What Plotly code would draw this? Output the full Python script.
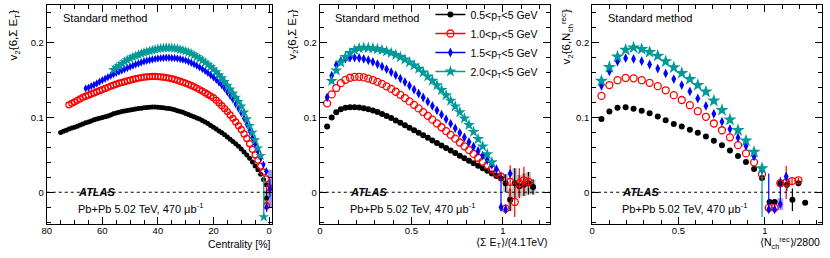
import plotly.graph_objects as go

W, H = 830, 258

# ---------------- data: left panel (centrality %) ----------------
cent_black = list(range(75, 0, -1))
v_black_cent = [0.080, 0.0815, 0.083, 0.0845, 0.086, 0.087, 0.0885, 0.090, 0.0915, 0.093,
                0.094, 0.0955, 0.097, 0.098, 0.099, 0.100, 0.101, 0.102, 0.1035, 0.105,
                0.106, 0.107, 0.108, 0.1087, 0.1094, 0.110, 0.1107, 0.1114, 0.112, 0.1125,
                0.113, 0.1134, 0.1137, 0.114, 0.114, 0.1138, 0.1135, 0.113, 0.1125, 0.112,
                0.1113, 0.1103, 0.109, 0.108, 0.107, 0.1055, 0.104, 0.1025, 0.101, 0.0995,
                0.098, 0.096, 0.094, 0.092, 0.0895, 0.087, 0.0845, 0.082, 0.0795, 0.077,
                0.074, 0.071, 0.068, 0.065, 0.0615, 0.058, 0.054, 0.050, 0.0455, 0.0405,
                0.035, 0.030, 0.024, 0.017, 0.010]
cent_red = list(range(72, 0, -1))
v_red_cent = [0.117, 0.119, 0.121, 0.123, 0.125, 0.127, 0.1285, 0.130, 0.1315, 0.133,
              0.1345, 0.136, 0.1375, 0.139, 0.1405, 0.142, 0.1433, 0.1446, 0.146, 0.147,
              0.148, 0.149, 0.150, 0.151, 0.152, 0.1528, 0.1535, 0.154, 0.1545, 0.1548,
              0.155, 0.155, 0.1548, 0.1545, 0.154, 0.1535, 0.1528, 0.152, 0.151, 0.1498,
              0.1486, 0.1473, 0.146, 0.1445, 0.143, 0.1413, 0.1395, 0.1375, 0.1354, 0.1332,
              0.131, 0.1288, 0.1265, 0.1232, 0.1196, 0.1158, 0.1119, 0.108, 0.1035, 0.099,
              0.094, 0.089, 0.084, 0.078, 0.072, 0.065, 0.0575, 0.050, 0.043, 0.035,
              0.027, 0.018]
cent_blue = list(range(66, 0, -1))
v_blue_cent = [0.139, 0.140, 0.142, 0.1435, 0.1455, 0.148, 0.150, 0.152, 0.154, 0.156,
               0.158, 0.1598, 0.1615, 0.163, 0.1647, 0.1663, 0.168, 0.1695, 0.171, 0.1724,
               0.1737, 0.175, 0.176, 0.177, 0.1778, 0.1785, 0.179, 0.1795, 0.1798, 0.180,
               0.180, 0.1798, 0.1795, 0.179, 0.1783, 0.1775, 0.1765, 0.175, 0.1734, 0.1715,
               0.1695, 0.1673, 0.165, 0.1625, 0.1598, 0.157, 0.154, 0.1505, 0.147, 0.1433,
               0.139, 0.134, 0.129, 0.124, 0.118, 0.112, 0.106, 0.099, 0.091, 0.082,
               0.073, 0.064, 0.055, 0.046, 0.037, 0.028]
cent_teal = list(range(56, 2, -1))
v_teal_cent = [0.164, 0.167, 0.1695, 0.172, 0.1745, 0.177, 0.179, 0.181, 0.1825, 0.184,
               0.1855, 0.187, 0.188, 0.189, 0.190, 0.191, 0.1918, 0.1925, 0.193, 0.1935,
               0.1935, 0.1932, 0.1928, 0.192, 0.191, 0.190, 0.1888, 0.1873, 0.1855, 0.1835,
               0.1813, 0.179, 0.1765, 0.1738, 0.171, 0.168, 0.1647, 0.161, 0.157, 0.1528,
               0.148, 0.143, 0.1378, 0.1325, 0.127, 0.1212, 0.115, 0.107, 0.098, 0.089,
               0.080, 0.070, 0.059, 0.049]
# most-central points with large uncertainties
cent_black_c = [0.9];        v_black_cent_c = [-0.008];        e_black_cent_c = [0.012]
cent_red_c = [0.9, -0.1];    v_red_cent_c = [-0.018, 0.006];    e_red_cent_c = [0.008, 0.008]
cent_blue_c = [0.9, -0.3];   v_blue_cent_c = [-0.020, 0.005];   e_blue_cent_c = [0.006, 0.012]
cent_teal_c = [1.9];         v_teal_cent_c = [-0.033];          ep_teal_cent_c = [0.058]
blue_band_cent = [-0.3];     blue_band_val = [0.005];           blue_band_err = [0.025]

# ---------------- data: middle panel (<sum ET>/4.1 TeV) ----------------
u_et = [0.040, 0.065, 0.090, 0.115, 0.140, 0.165, 0.190, 0.215, 0.240, 0.265,
        0.290, 0.315, 0.340, 0.365, 0.390, 0.415, 0.440, 0.465, 0.490, 0.515,
        0.540, 0.565, 0.590, 0.615, 0.640, 0.665, 0.690, 0.715, 0.740, 0.765,
        0.790, 0.815, 0.840, 0.865, 0.890, 0.915, 0.940, 0.965, 0.990]
v_black_et = [0.088, 0.100, 0.107, 0.111, 0.113, 0.1137, 0.1138, 0.1133, 0.1124, 0.1111,
              0.1094, 0.1073, 0.1049, 0.1022, 0.0993, 0.0962, 0.0930, 0.0897, 0.0864, 0.0830,
              0.0796, 0.0762, 0.0728, 0.0694, 0.0660, 0.0626, 0.0592, 0.0558, 0.0524, 0.0490,
              0.0456, 0.0422, 0.0388, 0.0354, 0.0320, 0.0286, 0.0252, 0.0218, 0.0184]
v_red_et = [0.119, 0.131, 0.1395, 0.146, 0.1505, 0.1533, 0.1545, 0.1545, 0.1537, 0.1522,
            0.1502, 0.1478, 0.1450, 0.1418, 0.1383, 0.1345, 0.1304, 0.1261, 0.1216, 0.1170,
            0.1122, 0.1073, 0.1023, 0.0972, 0.0921, 0.0870, 0.0819, 0.0768, 0.0717, 0.0666,
            0.0615, 0.0564, 0.0513, 0.0462, 0.0411, 0.0360, 0.0310, 0.0260]
v_blue_et = [0.127, 0.156, 0.1705, 0.1760, 0.1790, 0.1802, 0.1803, 0.1797, 0.1785, 0.1767,
             0.1744, 0.1716, 0.1684, 0.1648, 0.1609, 0.1567, 0.1522, 0.1475, 0.1426, 0.1375,
             0.1322, 0.1268, 0.1212, 0.1155, 0.1097, 0.1038, 0.0978, 0.0918, 0.0857, 0.0796,
             0.0735, 0.0674, 0.0613, 0.0552, 0.0491, 0.0430, 0.0369, 0.0308]
v_teal_et = [0.149, 0.163, 0.1735, 0.181, 0.1865, 0.1905, 0.1928, 0.1935, 0.1933,
             0.1927, 0.1917, 0.1904, 0.1886, 0.1865, 0.1839, 0.1810, 0.1777, 0.1739, 0.1698,
             0.1653, 0.1604, 0.1551, 0.1494, 0.1433, 0.1368, 0.1299, 0.1227, 0.1150, 0.1072,
             0.0988, 0.0900, 0.0808, 0.0712, 0.0613, 0.0509, 0.0401]
u_black_et_c = [1.015, 1.04, 1.065, 1.09, 1.115, 1.14, 1.165]
v_black_et_c = [0.012, -0.010, 0.012, 0.008, 0.010, 0.012, 0.007]
e_black_et_c = [0.012, 0.015, 0.020, 0.015, 0.015, 0.015, 0.010]
u_red_et_c = [0.99, 1.015, 1.04, 1.065, 1.09, 1.115, 1.14]
v_red_et_c = [0.021, -0.022, 0.014, -0.013, 0.012, 0.016, 0.014]
e_red_et_c = [0.006, 0.006, 0.022, 0.020, 0.020, 0.018, 0.008]
u_blue_et_c = [0.99, 1.015, 1.04]
v_blue_et_c = [-0.020, -0.023, 0.025]
ep_blue_et_c = [0.045, 0.004, 0.004]

# ---------------- data: right panel (<Nch rec>/2800) ----------------
u_nch = [0.054, 0.100, 0.147, 0.194, 0.240, 0.287, 0.333, 0.380, 0.426, 0.473, 0.519,
         0.566, 0.612, 0.659, 0.705, 0.752, 0.798, 0.845, 0.891, 0.938, 0.984]
v_black_nch = [0.098, 0.108, 0.1132, 0.1138, 0.1118, 0.1092, 0.1057, 0.1013, 0.0965, 0.0915,
               0.0880, 0.0838, 0.0798, 0.0745, 0.0690, 0.0628, 0.0560, 0.0485, 0.0405,
               0.0310, 0.0190]
v_red_nch = [0.129, 0.1435, 0.150, 0.153, 0.1525, 0.150, 0.1465, 0.142, 0.1365, 0.130,
             0.1235, 0.1165, 0.1085, 0.101, 0.092, 0.083, 0.0735, 0.063, 0.052, 0.040, 0.024]
v_blue_nch = [0.1425, 0.162, 0.175, 0.1795, 0.1785, 0.1755, 0.171, 0.1655, 0.159, 0.1515,
              0.1435, 0.135, 0.1255, 0.1155, 0.105, 0.0945, 0.0845, 0.073, 0.062, 0.048, 0.030]
v_teal_nch = [0.149, 0.1675, 0.1815, 0.1905, 0.1935, 0.1915, 0.1875, 0.1825, 0.175, 0.167,
              0.1595, 0.1515, 0.1435, 0.1345, 0.1225, 0.110, 0.097, 0.083, 0.069, 0.054, 0.032]
em_teal_nch_last = 0.065
u_black_nch_c = [1.028, 1.057, 1.09, 1.128, 1.16, 1.195, 1.234]
v_black_nch_c = [-0.013, -0.013, 0.012, 0.010, -0.010, 0.012, -0.014]
e_black_nch_c = [0.004, 0.004, 0.005, 0.008, 0.015, 0.004, 0.003]
u_red_nch_c = [1.023, 1.057, 1.09, 1.124, 1.158, 1.195]
v_red_nch_c = [-0.021, -0.021, 0.012, 0.013, 0.015, 0.016]
e_red_nch_c = [0.004, 0.004, 0.005, 0.022, 0.004, 0.003]
u_blue_nch_c = [1.023, 1.057, 1.09, 1.124]
v_blue_nch_c = [-0.023, -0.023, -0.016, 0.021]
ep_blue_nch_c = [0.048, 0.004, 0.036, 0.005]

legend_names = ["0.5<p<sub>T</sub><5 GeV", "1.0<p<sub>T</sub><5 GeV",
                "1.5<p<sub>T</sub><5 GeV", "2.0<p<sub>T</sub><5 GeV"]

# ---------------- styles ----------------
TEAL = "rgb(0,153,153)"
STY = {
    "black": dict(symbol="circle", color="black", line=dict(width=0)),
    "red": dict(symbol="circle-open", color="red", line=dict(width=1.3, color="red")),
    "blue": dict(symbol="diamond-tall", color="blue", line=dict(width=0)),
    "teal": dict(symbol="star", color=TEAL, line=dict(width=0)),
}
SIZES = {"left": dict(black=5, red=6, blue=6, teal=8),
         "mid": dict(black=6, red=7, blue=7, teal=9),
         "right": dict(black=6, red=7, blue=7, teal=10)}

fig = go.Figure()


def pts(xa, ya, x, y, key, panel, err=None, errplus=None, errminus=None):
    m = dict(STY[key]); m["size"] = SIZES[panel][key]
    col = m["color"]
    tr = dict(x=x, y=y, mode="markers", marker=m, xaxis=xa, yaxis=ya,
              showlegend=False, hoverinfo="skip")
    if err is not None:
        tr["error_y"] = dict(type="data", array=err, color=col, thickness=1.2, width=0)
    if errplus is not None or errminus is not None:
        tr["error_y"] = dict(type="data", symmetric=False,
                             array=errplus if errplus is not None else [0] * len(x),
                             arrayminus=errminus if errminus is not None else [0] * len(x),
                             color=col, thickness=1.2, width=0)
    fig.add_trace(go.Scatter(**tr))


def band(xa, ya, x, y, err, color, th=5):
    fig.add_trace(go.Scatter(x=x, y=y, mode="markers", marker=dict(size=1, opacity=0),
                             error_y=dict(type="data", array=err, color=color, thickness=th, width=0),
                             xaxis=xa, yaxis=ya, showlegend=False, hoverinfo="skip"))


# left panel
band("x", "y", blue_band_cent, blue_band_val, blue_band_err, "rgba(110,110,255,0.7)")
band("x", "y", cent_black_c, v_black_cent_c, [0.01], "rgba(170,170,170,0.8)")
pts("x", "y", cent_black, v_black_cent, "black", "left")
pts("x", "y", cent_red, v_red_cent, "red", "left")
pts("x", "y", cent_blue, v_blue_cent, "blue", "left")
pts("x", "y", cent_teal, v_teal_cent, "teal", "left")
pts("x", "y", cent_black_c, v_black_cent_c, "black", "left", err=e_black_cent_c)
pts("x", "y", cent_red_c, v_red_cent_c, "red", "left", err=e_red_cent_c)
pts("x", "y", cent_blue_c, v_blue_cent_c, "blue", "left", err=e_blue_cent_c)
pts("x", "y", cent_teal_c, v_teal_cent_c, "teal", "left", errplus=ep_teal_cent_c)

# middle panel
band("x2", "y2", u_black_et_c, v_black_et_c, e_black_et_c, "rgba(180,180,180,0.8)", th=5)
pts("x2", "y2", u_et, v_black_et, "black", "mid")
pts("x2", "y2", u_et[:38], v_red_et, "red", "mid")
pts("x2", "y2", u_et[:38], v_blue_et, "blue", "mid")
pts("x2", "y2", u_et[1:37], v_teal_et, "teal", "mid")
pts("x2", "y2", u_black_et_c, v_black_et_c, "black", "mid", err=e_black_et_c)
pts("x2", "y2", u_red_et_c, v_red_et_c, "red", "mid", err=e_red_et_c)
pts("x2", "y2", u_blue_et_c, v_blue_et_c, "blue", "mid", errplus=ep_blue_et_c)

# right panel
band("x3", "y3", [u_blue_nch_c[2]], [v_blue_nch_c[2]], [0.008], "rgba(110,110,255,0.6)", th=6)
pts("x3", "y3", u_nch, v_black_nch, "black", "right")
pts("x3", "y3", u_nch, v_red_nch, "red", "right")
pts("x3", "y3", u_nch, v_blue_nch, "blue", "right")
pts("x3", "y3", u_nch, v_teal_nch, "teal", "right",
    errminus=[0] * (len(u_nch) - 1) + [em_teal_nch_last], errplus=[0] * len(u_nch))
pts("x3", "y3", u_black_nch_c, v_black_nch_c, "black", "right", err=e_black_nch_c)
pts("x3", "y3", u_red_nch_c, v_red_nch_c, "red", "right", err=e_red_nch_c)
pts("x3", "y3", u_blue_nch_c, v_blue_nch_c, "blue", "right", errplus=ep_blue_nch_c)

# legend-only traces (line + marker)
for key, name in zip(["black", "red", "blue", "teal"], legend_names):
    m = dict(STY[key]); m["size"] = SIZES["mid"][key]
    fig.add_trace(go.Scatter(x=[None], y=[None], mode="lines+markers", name=name,
                             marker=m, line=dict(color=m["color"], width=1.5),
                             xaxis="x2", yaxis="y2"))


def px(x):
    return x / W


def py(y):
    return 1 - y / H


YR = [-0.0427, 0.2507]
FONT = "Liberation Sans, Arial, sans-serif"
ax_common = dict(showline=True, linecolor="black", linewidth=1, mirror="ticks",
                 ticks="inside", ticklen=7, tickwidth=1, tickcolor="black",
                 showgrid=False, zeroline=False,
                 tickfont=dict(family=FONT, size=9.5, color="black"))
minor_common = dict(ticks="inside", ticklen=4, tickwidth=1, tickcolor="black", showgrid=False)
ydom = [py(224), py(4)]

layout = dict(width=W, height=H, margin=dict(l=0, r=0, t=0, b=0),
              paper_bgcolor="white", plot_bgcolor="white",
              font=dict(family=FONT, color="black"))
layout["xaxis"] = dict(ax_common, domain=[px(42), px(269)], range=[80, -1.2],
                       tickvals=[0, 20, 40, 60, 80], minor=dict(minor_common, dtick=5, tick0=0),
                       anchor="y", ticklabelstandoff=-3)
layout["xaxis2"] = dict(ax_common, domain=[px(316.7), px(548)], range=[0, 1.256],
                        tickvals=[0, 0.5, 1], ticktext=["0", "0.5", "1"],
                        minor=dict(minor_common, dtick=0.1, tick0=0), anchor="y2",
                        ticklabelstandoff=-3)
layout["xaxis3"] = dict(ax_common, domain=[px(590.7), px(821.7)], range=[0, 1.33],
                        tickvals=[0, 0.5, 1], ticktext=["0", "0.5", "1"],
                        minor=dict(minor_common, dtick=0.1, tick0=0), anchor="y3",
                        ticklabelstandoff=-3)
for i, a in enumerate(["yaxis", "yaxis2", "yaxis3"]):
    layout[a] = dict(ax_common, domain=ydom, range=YR, tickvals=[0, 0.1, 0.2],
                     ticktext=["0", "0.1", "0.2"],
                     minor=dict(minor_common, dtick=0.02, tick0=0),
                     anchor=["x", "x2", "x3"][i])
layout["legend"] = dict(x=px(428), y=py(-1), xanchor="left", yanchor="top",
                        bgcolor="rgba(0,0,0,0)", font=dict(family=FONT, size=10.5),
                        tracegroupgap=0, itemwidth=30)
fig.update_layout(**layout)

# dotted zero lines
for xr in ["x domain", "x2 domain", "x3 domain"]:
    yr = {"x domain": "y", "x2 domain": "y2", "x3 domain": "y3"}[xr]
    fig.add_shape(type="line", xref=xr, yref=yr, x0=0, x1=1, y0=0, y1=0,
                  line=dict(color="black", width=1, dash="dot"))

ann = []
panel_left = [56, 330, 605]
atlas_left = [71, 345, 619]
for pl, al in zip(panel_left, atlas_left):
    ann.append(dict(text="Standard method", x=px(pl), y=py(17), xanchor="left", yanchor="middle",
                    font=dict(size=11)))
    ann.append(dict(text="<b><i>ATLAS</i></b>", x=px(al), y=py(192), xanchor="left",
                    yanchor="middle", font=dict(size=11)))
    ann.append(dict(text="Pb+Pb 5.02 TeV, 470 μb<sup>-1</sup>", x=px(al), y=py(208),
                    xanchor="left", yanchor="middle", font=dict(size=11)))

# axis titles
ann.append(dict(text="Centrality [%]", x=px(270), y=py(244), xanchor="right", yanchor="middle",
                font=dict(size=10.5)))
ann.append(dict(text="⟨Σ E<sub>T</sub>⟩/(4.1TeV)", x=px(548), y=py(243), xanchor="right",
                yanchor="middle", font=dict(size=10.5)))
ann.append(dict(text="⟨N<sub>ch</sub><sup>rec</sup>⟩/2800", x=px(822), y=py(243), xanchor="right",
                yanchor="middle", font=dict(size=10.5)))
ann.append(dict(text="v<sub>2</sub>{6,Σ E<sub>T</sub>}", x=px(10), y=py(6), xanchor="center",
                yanchor="top", textangle=-90, font=dict(size=11.5)))
ann.append(dict(text="v<sub>2</sub>{6,Σ E<sub>T</sub>}", x=px(290), y=py(6), xanchor="center",
                yanchor="top", textangle=-90, font=dict(size=11.5)))
ann.append(dict(text="v<sub>2</sub>{6,N<sub>ch</sub><sup>rec</sup>}", x=px(565), y=py(6),
                xanchor="center", yanchor="top", textangle=-90, font=dict(size=11.5)))
for a in ann:
    a.update(xref="paper", yref="paper", showarrow=False)
fig.update_layout(annotations=ann)

fig.write_html("out.html", config={"displayModeBar": False},
               post_script="document.body.style.margin='0';document.body.style.overflow='hidden';")
